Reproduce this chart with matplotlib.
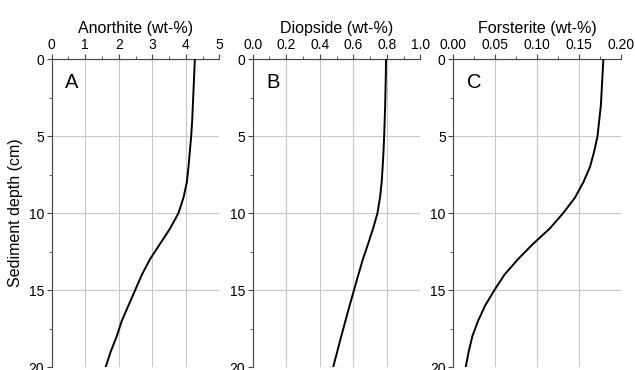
import matplotlib
matplotlib.use("Agg")
import matplotlib.pyplot as plt
from matplotlib.ticker import MultipleLocator

plt.rcParams["font.family"] = ["Liberation Sans", "DejaVu Sans"]

# depth profiles
depth = list(range(0, 21))
anorthite = [4.27, 4.25, 4.23, 4.21, 4.19, 4.16, 4.12, 4.08, 4.03, 3.93, 3.78,
             3.53, 3.23, 2.93, 2.69, 2.49, 2.29, 2.09, 1.94, 1.76, 1.61]
diopside = [0.795, 0.794, 0.792, 0.790, 0.787, 0.784, 0.780, 0.775, 0.769, 0.759,
            0.744, 0.718, 0.688, 0.657, 0.630, 0.604, 0.578, 0.553, 0.528, 0.504,
            0.480]
forsterite = [0.179, 0.178, 0.177, 0.176, 0.174, 0.172, 0.168, 0.163, 0.155,
              0.145, 0.131, 0.115, 0.095, 0.077, 0.061, 0.049, 0.038, 0.0295,
              0.0227, 0.0183, 0.0148]

titles = ["Anorthite (wt-%)", "Diopside (wt-%)", "Forsterite (wt-%)"]
letters = ["A", "B", "C"]
xmax = [5, 1.0, 0.20]
xmajor = [1, 0.2, 0.05]
xfmt = ["{:.0f}", "{:.1f}", "{:.2f}"]
series = [anorthite, diopside, forsterite]

fig = plt.figure(figsize=(6.35, 3.7), dpi=100)
lefts = [0.0814, 0.398, 0.7139]
W = 0.264
bottom, top = 0.008, 0.8397

spine_col = "#444444"
for i in range(3):
    ax = fig.add_axes([lefts[i], bottom, W, top - bottom])
    ax.plot(series[i], depth, color="black", lw=1.4, zorder=3)
    ax.set_xlim(0, xmax[i])
    ax.set_ylim(20, 0)
    ax.xaxis.set_major_locator(MultipleLocator(xmajor[i]))
    ax.xaxis.set_minor_locator(MultipleLocator(xmajor[i] / 2))
    ax.yaxis.set_major_locator(MultipleLocator(5))
    ax.yaxis.set_minor_locator(MultipleLocator(2.5))
    ax.xaxis.set_major_formatter(plt.FuncFormatter(lambda v, p, f=xfmt[i]: f.format(v)))
    ax.xaxis.tick_top()
    ax.xaxis.set_label_position("top")
    ax.tick_params(axis="both", which="major", direction="out", length=3.5,
                   width=0.8, color=spine_col, labelsize=10, pad=2)
    ax.tick_params(axis="both", which="minor", direction="out", length=2,
                   width=0.6, color=spine_col)
    ax.tick_params(axis="x", which="both", top=True, bottom=False)
    ax.tick_params(axis="y", which="both", left=True, right=False)
    for s in ["right", "bottom"]:
        ax.spines[s].set_visible(False)
    for s in ["left", "top"]:
        ax.spines[s].set_color(spine_col)
        ax.spines[s].set_linewidth(0.8)
    ax.grid(True, which="major", color="#c8c8c8", lw=0.8, zorder=0)
    ax.set_axisbelow(True)
    ax.set_title(titles[i], fontsize=11.5, pad=19)
    ax.text(0.08, 0.955, letters[i], transform=ax.transAxes, fontsize=14.5,
            va="top", ha="left")
    if i == 0:
        ax.set_ylabel("Sediment depth (cm)", fontsize=11.5, labelpad=4)

fig.savefig("out.png", dpi=100)
